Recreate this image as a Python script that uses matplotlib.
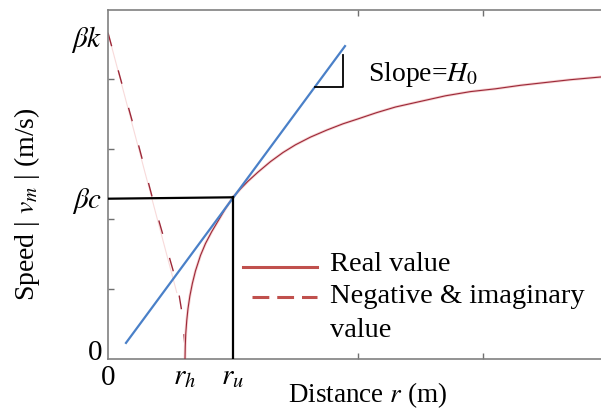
import numpy as np
import matplotlib
matplotlib.use("Agg")
import matplotlib.pyplot as plt

plt.rcParams['font.family'] = ['Liberation Serif', 'DejaVu Serif']
plt.rcParams['mathtext.fontset'] = 'stix'

# =========================
# Data (x in units of tick spacing)
# =========================
real_x = [0.616, 0.618, 0.622, 0.63, 0.64, 0.655, 0.675, 0.70, 0.74, 0.78, 0.83, 0.88,
          0.94, 1.0, 1.06, 1.12, 1.2, 1.3, 1.4, 1.5, 1.62, 1.75, 1.88, 2.0, 2.15,
          2.3, 2.5, 2.7, 2.9, 3.1, 3.3, 3.5, 3.7, 3.95]
real_y = [0.0, 0.18, 0.36, 0.55, 0.72, 0.9, 1.08, 1.26, 1.48, 1.65, 1.82, 1.97,
          2.15, 2.31, 2.43, 2.54, 2.67, 2.82, 2.95, 3.06, 3.17, 3.27, 3.36, 3.43, 3.52,
          3.6, 3.68, 3.76, 3.82, 3.86, 3.91, 3.95, 3.99, 4.03]

imag_x = [0.0, 0.096, 0.192, 0.36, 0.52, 0.57, 0.592, 0.608, 0.616, 0.616]
imag_y = [4.66, 4.03, 3.41, 2.27, 1.27, 0.9, 0.66, 0.35, 0.17, 0.0]

faint_x = [0.0, 0.55]
faint_y = [4.66, 0.95]

tangent_x = [0.144, 1.896]
tangent_y = [0.23, 4.47]

r_h, r_u = 0.616, 1.0
beta_c, beta_k = 2.31, 4.62

tri_x = [1.656, 1.88, 1.88]
tri_y = [3.886, 3.886, 4.34]

# =========================
# Figure
# =========================
fig = plt.figure(figsize=(6.01, 4.09), dpi=100)
ax = fig.add_axes([108 / 601, 1 - 359 / 409, 493 / 601, 349 / 409])
ax.set_xlim(0, 493 / 125)
ax.set_ylim(0, 349 / 70)

red = '#9c2838'
ax.plot(faint_x, faint_y, color='#f8dada', lw=0.8, zorder=1)
ax.plot(imag_x, imag_y, color=red, lw=1.0, dashes=(10, 18), zorder=2)
ax.plot(real_x, real_y, color='#f5d0d0', lw=2.0, zorder=2)
ax.plot(real_x, real_y, color=red, lw=0.8, zorder=3)
ax.plot(tangent_x, tangent_y, color='#4a80c8', lw=1.6, zorder=4)

# guide lines to the tangent point
ax.plot([0, r_u], [beta_c - 0.02, beta_c], color='black', lw=1.6, zorder=5)
ax.plot([r_u, r_u], [0, beta_c], color='black', lw=1.6, zorder=5)
ax.plot(tri_x, tri_y, color='black', lw=1.3, zorder=5)

ax.text(2.08, 4.06, r'Slope=$\mathit{H_0}$', fontsize=20, va='center', ha='left')

# manual legend
ax.plot([0.274, 0.424], [0.264, 0.264], transform=ax.transAxes,
        color='#c0504d', lw=2.2)
ax.plot([0.292, 0.424], [0.178, 0.178], transform=ax.transAxes,
        color='#c0504d', lw=2.2, dashes=(5.5, 2.6))
ax.text(0.45, 0.252, 'Real value', transform=ax.transAxes, fontsize=20.5, va='baseline')
ax.text(0.45, 0.160, 'Negative & imaginary', transform=ax.transAxes, fontsize=20.5, va='baseline')
ax.text(0.45, 0.063, 'value', transform=ax.transAxes, fontsize=20.5, va='baseline')

# ticks
ax.set_xticks([0, r_h, r_u], ['0', r'$r_h$', r'$r_u$'], fontsize=21)
ax.set_yticks([0.13, beta_c, beta_k], ['0', r'$\beta c$', r'$\beta k$'], fontsize=21)
ax.tick_params(axis='both', length=0, pad=4)
ax.set_xticks([1, 2, 3], minor=True)
ax.set_yticks([1, 2, 3, 4], minor=True)
ax.tick_params(which='minor', direction='in', length=4, width=1, color='#707070',
               top=True, bottom=True, left=True)

for side in ['left', 'bottom', 'top']:
    ax.spines[side].set_color('#808080')
    ax.spines[side].set_linewidth(1.2)
ax.spines['right'].set_visible(False)

ax.set_xlabel(r'Distance $r$ (m)', fontsize=19.5)
ax.xaxis.set_label_coords(0.527, -0.062)
ax.set_ylabel(r'Speed | $v_m$ | (m/s)', fontsize=20)
ax.yaxis.set_label_coords(-0.133, 0.444)

fig.savefig('out.png', dpi=100)
